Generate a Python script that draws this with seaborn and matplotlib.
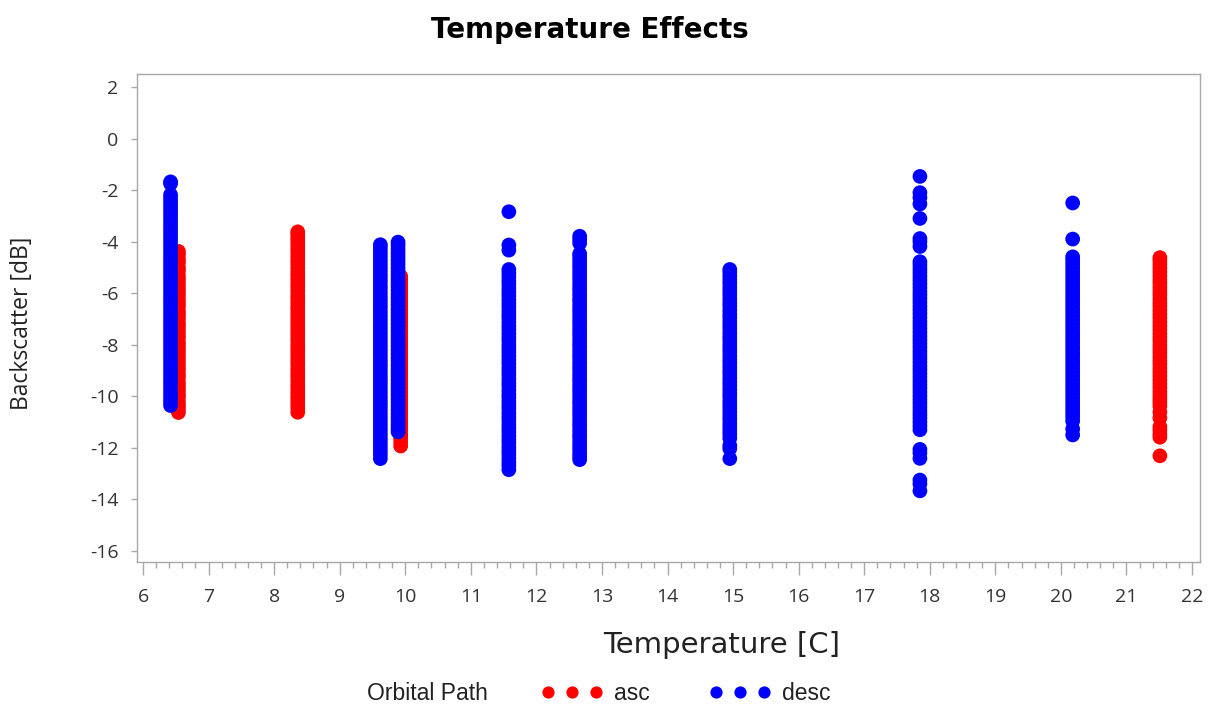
import matplotlib
matplotlib.use("Agg")
import matplotlib.pyplot as plt
from matplotlib.lines import Line2D
from matplotlib.ticker import MultipleLocator
import seaborn as sns
import pandas as pd

# ---- data (temperature column -> backscatter values) ----
asc_temps = [6.54, 8.36, 9.93, 21.51]
asc_6_54 = [-4.38, -4.51, -4.69, -4.82, -5.01, -5.14, -5.33, -5.47, -5.62, -5.78, -5.93,
            -6.07, -6.24, -6.39, -6.52, -6.71, -6.84, -6.98, -7.16, -7.29, -7.45, -7.61,
            -7.74, -7.92, -8.06, -8.21, -8.37, -8.52, -8.68, -8.83, -8.97, -9.14, -9.28,
            -9.46, -9.59, -9.75, -9.91, -10.04, -10.22, -10.35, -10.49, -10.63]
asc_8_36 = [-3.62, -3.71, -3.85, -3.98, -4.12, -4.28, -4.41, -4.57, -4.73, -4.86, -5.02,
            -5.18, -5.31, -5.47, -5.63, -5.76, -5.92, -6.08, -6.21, -6.37, -6.53, -6.66,
            -6.82, -6.97, -7.13, -7.28, -7.42, -7.58, -7.73, -7.87, -8.04, -8.19, -8.33,
            -8.49, -8.64, -8.78, -8.95, -9.11, -9.24, -9.39, -9.56, -9.69, -9.85, -10.01,
            -10.14, -10.29, -10.45, -10.62]
asc_9_93 = [-5.35, -5.48, -5.63, -5.79, -5.92, -6.08, -6.23, -6.37, -6.52, -6.68, -6.83,
            -6.97, -7.12, -7.28, -7.43, -7.57, -7.72, -7.88, -8.03, -8.17, -8.33, -8.48,
            -8.62, -8.78, -8.93, -9.07, -9.22, -9.38, -9.53, -9.67, -9.83, -9.98, -10.12,
            -10.28, -10.43, -10.57, -10.72, -10.88, -11.03, -11.17, -11.33, -11.48, -11.62,
            -11.77, -11.93]
asc_21_51 = [-4.62, -4.73, -4.88, -5.03, -5.17, -5.32, -5.48, -5.61, -5.77, -5.92, -6.06,
             -6.22, -6.37, -6.51, -6.67, -6.82, -6.96, -7.12, -7.27, -7.41, -7.57, -7.72,
             -7.86, -8.02, -8.17, -8.31, -8.47, -8.62, -8.76, -8.92, -9.07, -9.21, -9.37,
             -9.52, -9.66, -9.82, -9.97, -10.11, -10.24, -10.38, -10.62, -10.84, -11.18,
             -11.31, -11.47, -11.59, -12.31]
asc_values = [asc_6_54, asc_8_36, asc_9_93, asc_21_51]

desc_temps = [6.42, 9.62, 9.89, 11.58, 12.66, 14.95, 17.85, 20.18]
desc_6_42 = [-1.68, -1.75, -2.18, -2.31, -2.45, -2.58, -2.72, -2.86, -2.99, -3.13, -3.27,
             -3.41, -3.55, -3.68, -3.82, -3.96, -4.11, -4.24, -4.38, -4.52, -4.66, -4.79,
             -4.93, -5.08, -5.22, -5.35, -5.49, -5.63, -5.77, -5.91, -6.05, -6.19, -6.33,
             -6.46, -6.61, -6.75, -6.88, -7.02, -7.16, -7.31, -7.44, -7.58, -7.72, -7.86,
             -8.01, -8.14, -8.28, -8.43, -8.56, -8.70, -8.84, -8.99, -9.12, -9.26, -9.41,
             -9.54, -9.68, -9.83, -9.96, -10.10, -10.22, -10.36]
desc_9_62 = [-4.12, -4.24, -4.39, -4.53, -4.68, -4.82, -4.97, -5.11, -5.27, -5.41, -5.55,
             -5.71, -5.84, -5.99, -6.14, -6.28, -6.43, -6.56, -6.72, -6.86, -7.01, -7.16,
             -7.30, -7.44, -7.59, -7.74, -7.88, -8.03, -8.18, -8.32, -8.46, -8.61, -8.76,
             -8.90, -9.05, -9.20, -9.34, -9.48, -9.63, -9.78, -9.92, -10.07, -10.22,
             -10.36, -10.50, -10.65, -10.80, -10.94, -11.09, -11.24, -11.38, -11.52,
             -11.67, -11.82, -11.96, -12.11, -12.26, -12.42]
desc_9_89 = [-4.02, -4.15, -4.29, -4.44, -4.58, -4.73, -4.87, -5.02, -5.16, -5.31, -5.46,
             -5.60, -5.74, -5.89, -6.04, -6.18, -6.32, -6.47, -6.62, -6.76, -6.90, -7.05,
             -7.20, -7.34, -7.48, -7.63, -7.78, -7.92, -8.06, -8.21, -8.36, -8.50, -8.64,
             -8.79, -8.94, -9.08, -9.22, -9.37, -9.52, -9.66, -9.80, -9.95, -10.10,
             -10.24, -10.38, -10.53, -10.68, -10.82, -10.96, -11.11, -11.25, -11.38]
desc_11_58 = [-2.84, -4.13, -4.33, -5.08, -5.21, -5.36, -5.52, -5.65, -5.81, -5.96, -6.09,
              -6.25, -6.40, -6.53, -6.69, -6.84, -6.97, -7.13, -7.28, -7.41, -7.57, -7.72,
              -7.85, -8.01, -8.16, -8.29, -8.45, -8.60, -8.73, -8.89, -9.04, -9.17, -9.33,
              -9.48, -9.61, -9.77, -9.92, -10.05, -10.21, -10.36, -10.49, -10.65, -10.80,
              -10.93, -11.09, -11.24, -11.37, -11.53, -11.68, -11.81, -11.97, -12.12,
              -12.25, -12.41, -12.56, -12.69, -12.85]
desc_12_66 = [-3.79, -3.92, -4.06, -4.47, -4.58, -4.73, -4.88, -5.01, -5.17, -5.32, -5.45,
              -5.61, -5.76, -5.89, -6.05, -6.20, -6.33, -6.49, -6.64, -6.77, -6.93, -7.08,
              -7.21, -7.37, -7.52, -7.65, -7.81, -7.96, -8.09, -8.25, -8.40, -8.53, -8.69,
              -8.84, -8.97, -9.13, -9.28, -9.41, -9.57, -9.72, -9.85, -10.01, -10.16,
              -10.29, -10.45, -10.60, -10.73, -10.89, -11.04, -11.17, -11.33, -11.48,
              -11.61, -11.77, -11.92, -12.05, -12.21, -12.34, -12.46]
desc_14_95 = [-5.08, -5.19, -5.34, -5.49, -5.62, -5.78, -5.93, -6.06, -6.22, -6.37, -6.50,
              -6.66, -6.81, -6.94, -7.10, -7.25, -7.38, -7.54, -7.69, -7.82, -7.98, -8.13,
              -8.26, -8.42, -8.57, -8.70, -8.86, -9.01, -9.14, -9.30, -9.45, -9.58, -9.74,
              -9.89, -10.02, -10.18, -10.33, -10.46, -10.62, -10.77, -10.90, -11.06,
              -11.21, -11.34, -11.47, -11.63, -11.91, -12.03, -12.42]
desc_17_85 = [-1.47, -2.10, -2.29, -2.54, -3.10, -3.88, -4.01, -4.19, -4.78, -4.91, -5.06,
              -5.20, -5.35, -5.49, -5.63, -5.78, -5.93, -6.07, -6.21, -6.36, -6.51, -6.65,
              -6.79, -6.94, -7.09, -7.23, -7.37, -7.52, -7.67, -7.81, -7.95, -8.10, -8.25,
              -8.39, -8.53, -8.68, -8.83, -8.97, -9.11, -9.26, -9.41, -9.55, -9.69, -9.84,
              -9.99, -10.13, -10.27, -10.42, -10.57, -10.71, -10.85, -11.00, -11.15,
              -11.30, -12.06, -12.20, -12.41, -13.25, -13.40, -13.67]
desc_20_18 = [-2.50, -3.90, -4.59, -4.71, -4.86, -5.00, -5.15, -5.29, -5.44, -5.58, -5.73,
              -5.87, -6.02, -6.16, -6.31, -6.45, -6.60, -6.74, -6.89, -7.03, -7.18, -7.32,
              -7.47, -7.61, -7.76, -7.90, -8.05, -8.19, -8.34, -8.48, -8.63, -8.77, -8.92,
              -9.06, -9.21, -9.35, -9.50, -9.64, -9.79, -9.93, -10.08, -10.22, -10.37,
              -10.51, -10.66, -10.80, -10.96, -11.27, -11.50]
desc_values = [desc_6_42, desc_9_62, desc_9_89, desc_11_58, desc_12_66, desc_14_95,
               desc_17_85, desc_20_18]

paths = ["asc", "desc"]
path_colors = {"asc": "#ff0000", "desc": "#0000ff"}
x_ticks = list(range(6, 23))
y_ticks = list(range(-16, 3, 2))

# ---- long-form table (asc first so desc is drawn on top) ----
rows = []
for t, vals in zip(asc_temps, asc_values):
    rows += [{"Temperature": t, "Backscatter": v, "Orbital Path": "asc"} for v in vals]
for t, vals in zip(desc_temps, desc_values):
    rows += [{"Temperature": t, "Backscatter": v, "Orbital Path": "desc"} for v in vals]
df = pd.DataFrame(rows)

sns.set_style("white")
plt.rcParams["font.family"] = ["DejaVu Sans"]
plt.rcParams["axes.unicode_minus"] = False

fig = plt.figure(figsize=(12.1, 7.07), dpi=100)
ax = fig.add_axes([137 / 1210, 1 - 562 / 707, (1200 - 137) / 1210, (562 - 74) / 707])

sns.scatterplot(data=df, x="Temperature", y="Backscatter", hue="Orbital Path",
                hue_order=paths, palette=path_colors, s=112, linewidth=0,
                legend=False, ax=ax)

ax.set_xlim(5.908, 22.122)
ax.set_ylim(-16.43, 2.504)
ax.set_xticks(x_ticks)
ax.set_yticks(y_ticks)
ax.xaxis.set_minor_locator(MultipleLocator(0.2))
ax.set_xlabel("")
ax.set_ylabel("")

spine_c = "#a8a8a8"
for sp in ax.spines.values():
    sp.set_visible(True)
    sp.set_color(spine_c)
    sp.set_linewidth(1.0)

tick_c = "#333333"
ax.tick_params(axis="x", which="major", direction="out", length=9, width=1,
               color=spine_c, labelsize=14, labelcolor=tick_c, pad=9.5, bottom=True)
ax.tick_params(axis="x", which="minor", direction="out", length=4.5, width=1,
               color=spine_c, bottom=True)
ax.tick_params(axis="y", which="major", direction="out", length=4.3, width=1,
               color=spine_c, labelsize=14, labelcolor=tick_c, pad=9, left=True)
for lab in ax.get_xticklabels() + ax.get_yticklabels():
    lab.set_family(["Open Sans", "DejaVu Sans"])

# titles / labels
fig.text(590 / 1210, 1 - 30 / 707, "Temperature Effects", ha="center", va="center",
         fontsize=20, fontweight="bold", color="#000000", family=["DejaVu Sans"])
fig.text(722 / 1210, 1 - 645 / 707, "Temperature [C]", ha="center", va="center",
         fontsize=21, color="#222222", family=["DejaVu Sans"])
fig.text(22 / 1210, 1 - 323 / 707, "Backscatter [dB]", ha="center", va="center",
         rotation=90, fontsize=16.5, color="#222222", family=["Open Sans", "DejaVu Sans"])

# legend
fig.text(367 / 1210, 1 - 694 / 707, "Orbital Path", ha="left", va="center",
         fontsize=16.5, color="#222222", family=["Liberation Sans", "DejaVu Sans"])
handles = [Line2D([], [], linestyle="none", marker="o", markersize=8.8,
                  markerfacecolor=path_colors[p], markeredgewidth=0) for p in paths]
fig.legend(handles, paths, loc="center left", bbox_to_anchor=(541 / 1210, 1 - 694 / 707),
           ncol=2, frameon=False, numpoints=3, handlelength=2.69, handletextpad=0.48,
           columnspacing=2.6, borderpad=0, borderaxespad=0,
           prop={"family": ["Liberation Sans", "DejaVu Sans"], "size": 16.5},
           labelcolor="#222222")

fig.savefig("out.png", dpi=100)
